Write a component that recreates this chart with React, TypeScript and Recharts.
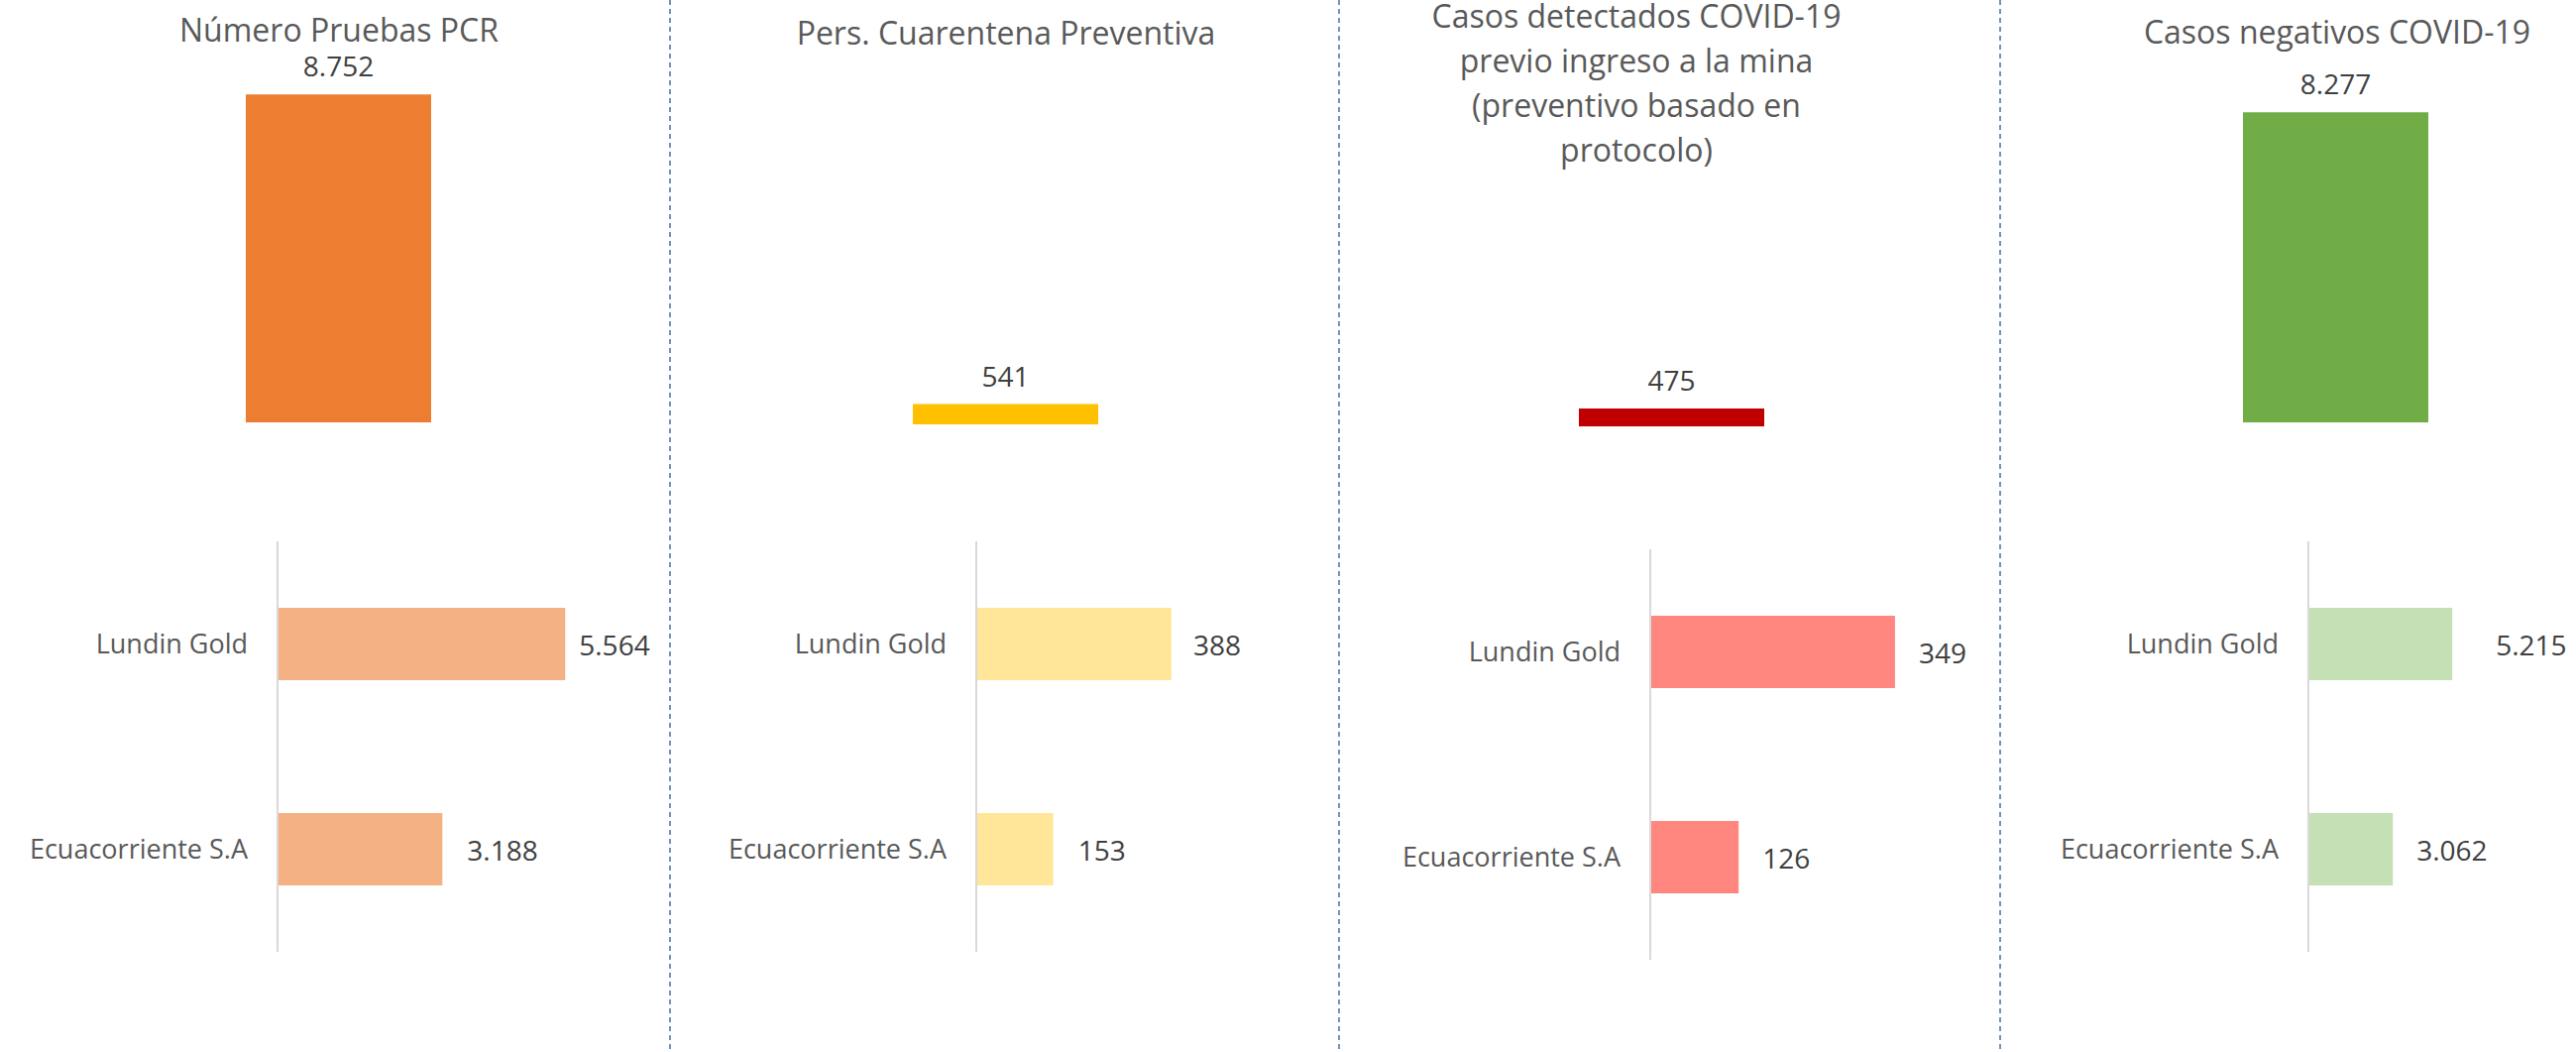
import { BarChart, Bar, XAxis, YAxis, LabelList } from 'recharts'

const companies = ['Lundin Gold', 'Ecuacorriente S.A']
const totals = [8752, 541, 475, 8277]
const pcrByCompany = [5564, 3188]
const cuarentenaByCompany = [388, 153]
const detectadosByCompany = [349, 126]
const negativosByCompany = [5215, 3062]

const FONT = "'Open Sans', sans-serif"
const TEXT = '#595959'
const VALUE = '#404040'

// Spanish thousands separator: 8752 -> 8.752
function fmt(v: number) {
  return String(v).replace(/\B(?=(\d{3})+(?!\d))/g, '.')
}

const panels = [
  {
    title: ['Número Pruebas PCR'],
    titleX: 342,
    titleY: 42,
    total: totals[0],
    byCompany: pcrByCompany,
    main: '#ED7D31',
    light: '#F4B183',
    barX: 341,
    barBase: 426,
    axisX: 280,
    plotTop: 546,
    xMax: 6000,
    plotW: 313,
    gaps: [14, 25],
  },
  {
    title: ['Pers. Cuarentena Preventiva'],
    titleX: 1015,
    titleY: 45,
    total: totals[1],
    byCompany: cuarentenaByCompany,
    main: '#FFC000',
    light: '#FFE699',
    barX: 1014,
    barBase: 428,
    axisX: 985,
    plotTop: 546,
    xMax: 400,
    plotW: 203,
    gaps: [22, 25],
  },
  {
    title: [
      'Casos detectados COVID-19',
      'previo ingreso a la mina',
      '(preventivo basado en',
      'protocolo)',
    ],
    titleX: 1651,
    titleY: 28,
    total: totals[2],
    byCompany: detectadosByCompany,
    main: '#C00000',
    light: '#FF877F',
    barX: 1686,
    barBase: 430,
    axisX: 1665,
    plotTop: 554,
    xMax: 400,
    plotW: 283,
    gaps: [24, 24],
  },
  {
    title: ['Casos negativos COVID-19'],
    titleX: 2358,
    titleY: 44,
    total: totals[3],
    byCompany: negativosByCompany,
    main: '#70AD47',
    light: '#C5E0B4',
    barX: 2356,
    barBase: 426,
    axisX: 2329,
    plotTop: 546,
    xMax: 6000,
    plotW: 167,
    gaps: [44, 24],
  },
]

const separators = [676, 1351, 2018]

function TopChart({ p }: { p: (typeof panels)[number] }) {
  const w = 400
  const plotH = 340
  return (
    <div style={{ position: 'absolute', left: p.barX - w / 2, top: 0 }}>
      <BarChart
        width={w}
        height={p.barBase}
        data={[{ name: 'total', value: p.total }]}
        margin={{ top: p.barBase - plotH, right: 0, left: 0, bottom: 0 }}
      >
        <XAxis dataKey="name" hide />
        <YAxis hide domain={[0, 9000]} />
        <Bar dataKey="value" fill={p.main} barSize={187} isAnimationActive={false}>
          <LabelList
            dataKey="value"
            position="top"
            offset={18}
            formatter={(v: any) => fmt(Number(v))}
            style={{ fill: VALUE, fontSize: 28, fontFamily: FONT }}
          />
        </Bar>
      </BarChart>
    </div>
  )
}

function BottomChart({ p }: { p: (typeof panels)[number] }) {
  const yw = 270
  const data = companies.map((name, i) => ({ name, value: p.byCompany[i] }))
  const renderLabel = (props: any) => {
    const { x, y, width, height, value, index } = props
    const gap = p.gaps[index ?? 0] ?? 22
    return (
      <text
        x={Number(x) + Number(width) + gap}
        y={Number(y) + Number(height) / 2}
        dominantBaseline="central"
        fill={VALUE}
        fontSize={28}
        fontFamily={FONT}
      >
        {fmt(Number(value))}
      </text>
    )
  }
  return (
    <div style={{ position: 'absolute', left: p.axisX - yw, top: p.plotTop }}>
      <BarChart
        layout="vertical"
        width={yw + p.plotW + 160}
        height={414}
        data={data}
        margin={{ top: 0, right: 160, left: 0, bottom: 0 }}
      >
        <XAxis type="number" domain={[0, p.xMax]} hide />
        <YAxis
          type="category"
          dataKey="name"
          width={yw}
          axisLine={{ stroke: '#D9D9D9', strokeWidth: 2 }}
          tickLine={false}
          tickSize={0}
          tickMargin={30}
          tick={{ fill: TEXT, fontSize: 27, fontFamily: FONT }}
        />
        <Bar dataKey="value" fill={p.light} barSize={73} isAnimationActive={false}>
          <LabelList dataKey="value" content={renderLabel} />
        </Bar>
      </BarChart>
    </div>
  )
}

export default function App() {
  return (
    <div
      style={{
        position: 'absolute',
        left: 0,
        top: 0,
        width: 2599,
        height: 1061,
        background: '#fff',
        overflow: 'hidden',
        fontFamily: FONT,
      }}
    >
      <svg width={2599} height={1061} style={{ position: 'absolute', left: 0, top: 0 }}>
        {separators.map((x) => (
          <line
            key={x}
            x1={x}
            x2={x}
            y1={0}
            y2={1061}
            stroke="#7393BF"
            strokeWidth={2}
            strokeDasharray="5 4"
          />
        ))}
        {panels.map((p, i) => (
          <text
            key={i}
            x={p.titleX}
            y={p.titleY}
            textAnchor="middle"
            fill={TEXT}
            fontSize={32}
            fontFamily={FONT}
          >
            {p.title.map((line, j) => (
              <tspan key={j} x={p.titleX} y={p.titleY + j * 45}>
                {line}
              </tspan>
            ))}
          </text>
        ))}
      </svg>
      {panels.map((p, i) => (
        <TopChart key={`t${i}`} p={p} />
      ))}
      {panels.map((p, i) => (
        <BottomChart key={`b${i}`} p={p} />
      ))}
    </div>
  )
}
